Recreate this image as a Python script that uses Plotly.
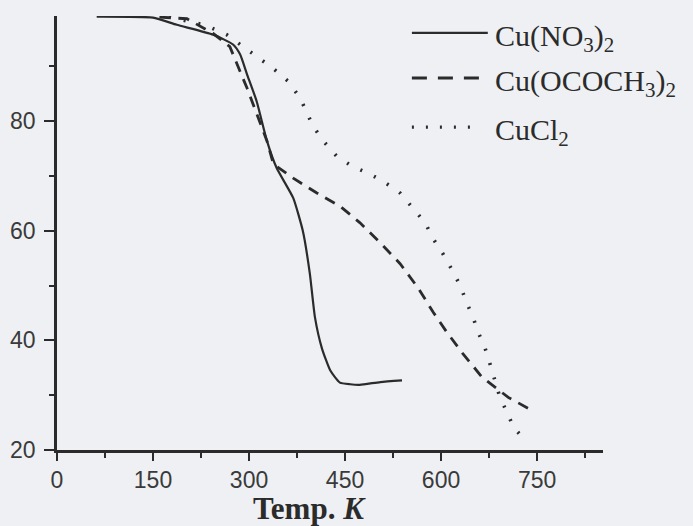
import plotly.graph_objects as go

# Thermogravimetric data (Temp in K, residual mass %)
t_nitrate = [62, 150, 187, 244, 275, 286, 297, 312, 328, 343, 369, 384, 395, 403, 414, 427, 442, 458, 473, 505, 539]
w_nitrate = [99.1, 98.9, 97.6, 95.8, 94.0, 92.2, 88.5, 83.6, 76.4, 71.5, 66.0, 60.0, 52.2, 44.2, 38.5, 34.5, 32.3, 32.0, 31.9, 32.4, 32.7]

t_acetate = [160, 203, 244, 270, 297, 312, 328, 338, 369, 406, 442, 473, 505, 536, 564, 588, 609, 634, 664, 705, 744]
w_acetate = [99.0, 98.7, 96.0, 93.6, 86.0, 81.3, 76.4, 72.2, 69.6, 66.9, 64.5, 61.5, 57.8, 54.0, 49.6, 45.1, 41.5, 37.6, 33.3, 29.6, 27.1]

t_chloride = [175, 230, 265, 291, 338, 361, 380, 400, 416, 437, 461, 486, 509, 536, 556, 575, 588, 603, 617, 630, 640, 650, 658, 669, 677, 684, 692, 703, 713, 728]
w_chloride = [99.0, 97.6, 95.8, 93.6, 89.6, 87.3, 84.2, 79.1, 76.4, 73.6, 71.8, 70.5, 69.1, 66.9, 64.2, 61.5, 58.5, 55.8, 52.9, 50.0, 46.9, 44.2, 41.5, 38.5, 35.5, 32.7, 29.6, 26.9, 24.2, 22.2]

x_ticks = [0, 150, 300, 450, 600, 750]
x_minor = [75, 225, 375, 525, 675, 825]
y_ticks = [20, 40, 60, 80]
y_minor = [30, 50, 70, 90]

legend_labels = ["Cu(NO<sub>3</sub>)<sub>2</sub>",
                 "Cu(OCOCH<sub>3</sub>)<sub>2</sub>",
                 "CuCl<sub>2</sub>"]
x_title = "<b>Temp. <i>K</i></b>"

INK = "#2b2b2b"
BG = "#eef0f3"

fig = go.Figure()
fig.add_trace(go.Scatter(x=t_nitrate, y=w_nitrate, mode="lines", name="Cu(NO3)2",
                         line=dict(color=INK, width=2.2, shape="spline", smoothing=0.5), showlegend=False))
fig.add_trace(go.Scatter(x=t_acetate, y=w_acetate, mode="lines", name="Cu(OCOCH3)2",
                         line=dict(color=INK, width=2.8, dash="11px,8px"), showlegend=False))
fig.add_trace(go.Scatter(x=t_chloride, y=w_chloride, mode="lines", name="CuCl2",
                         line=dict(color=INK, width=3.6, dash="2px,13px"), showlegend=False))

# manual legend (line samples + labels)
leg_y = [0.961, 0.857, 0.744]
leg_dash = ["solid", "15px,11px", "2px,12px"]
leg_w = [2.2, 3, 3.4]
leg_x1 = [0.789, 0.789, 0.76]
for yy, d, w, x1, lab in zip(leg_y, leg_dash, leg_w, leg_x1, legend_labels):
    fig.add_shape(type="line", xref="paper", yref="paper", x0=0.650, x1=x1, y0=yy, y1=yy,
                  line=dict(color=INK, width=w, dash=d))
    fig.add_annotation(xref="paper", yref="paper", x=0.799, y=yy, xanchor="left", yanchor="middle",
                       text=lab, showarrow=False, yshift=-5,
                       font=dict(family="Liberation Serif", size=30, color=INK))

fig.add_annotation(xref="paper", yref="paper", x=0.463, y=-0.134, xanchor="center", yanchor="middle",
                   text=x_title, showarrow=False,
                   font=dict(family="Liberation Serif", size=31, color=INK))

fig.update_layout(
    width=693, height=526,
    margin=dict(l=57, r=90, t=16, b=76, autoexpand=False),
    paper_bgcolor=BG, plot_bgcolor=BG,
    showlegend=False,
    font=dict(family="Liberation Sans", size=23, color="#3a3a3a"),
)

fig.update_xaxes(
    range=[0, 853], showgrid=False, zeroline=False, automargin=False,
    showline=True, linecolor=INK, linewidth=2.6,
    tickvals=x_ticks, ticks="outside", ticklen=8, tickwidth=2, tickcolor=INK,
    minor=dict(tickvals=x_minor, ticks="outside", ticklen=5, tickwidth=2, tickcolor=INK),
)
fig.update_yaxes(
    range=[20, 99.2], showgrid=False, zeroline=False, automargin=False,
    showline=True, linecolor=INK, linewidth=2.6,
    tickvals=y_ticks, ticks="outside", ticklen=10, tickwidth=2, tickcolor=INK,
    minor=dict(tickvals=y_minor, ticks="outside", ticklen=5, tickwidth=2, tickcolor=INK),
    ticklabelstandoff=4,
)

fig.write_html("out.html", config={"displayModeBar": False},
               post_script="document.body.style.margin='0';document.body.style.overflow='hidden';document.body.style.background='" + BG + "';")
